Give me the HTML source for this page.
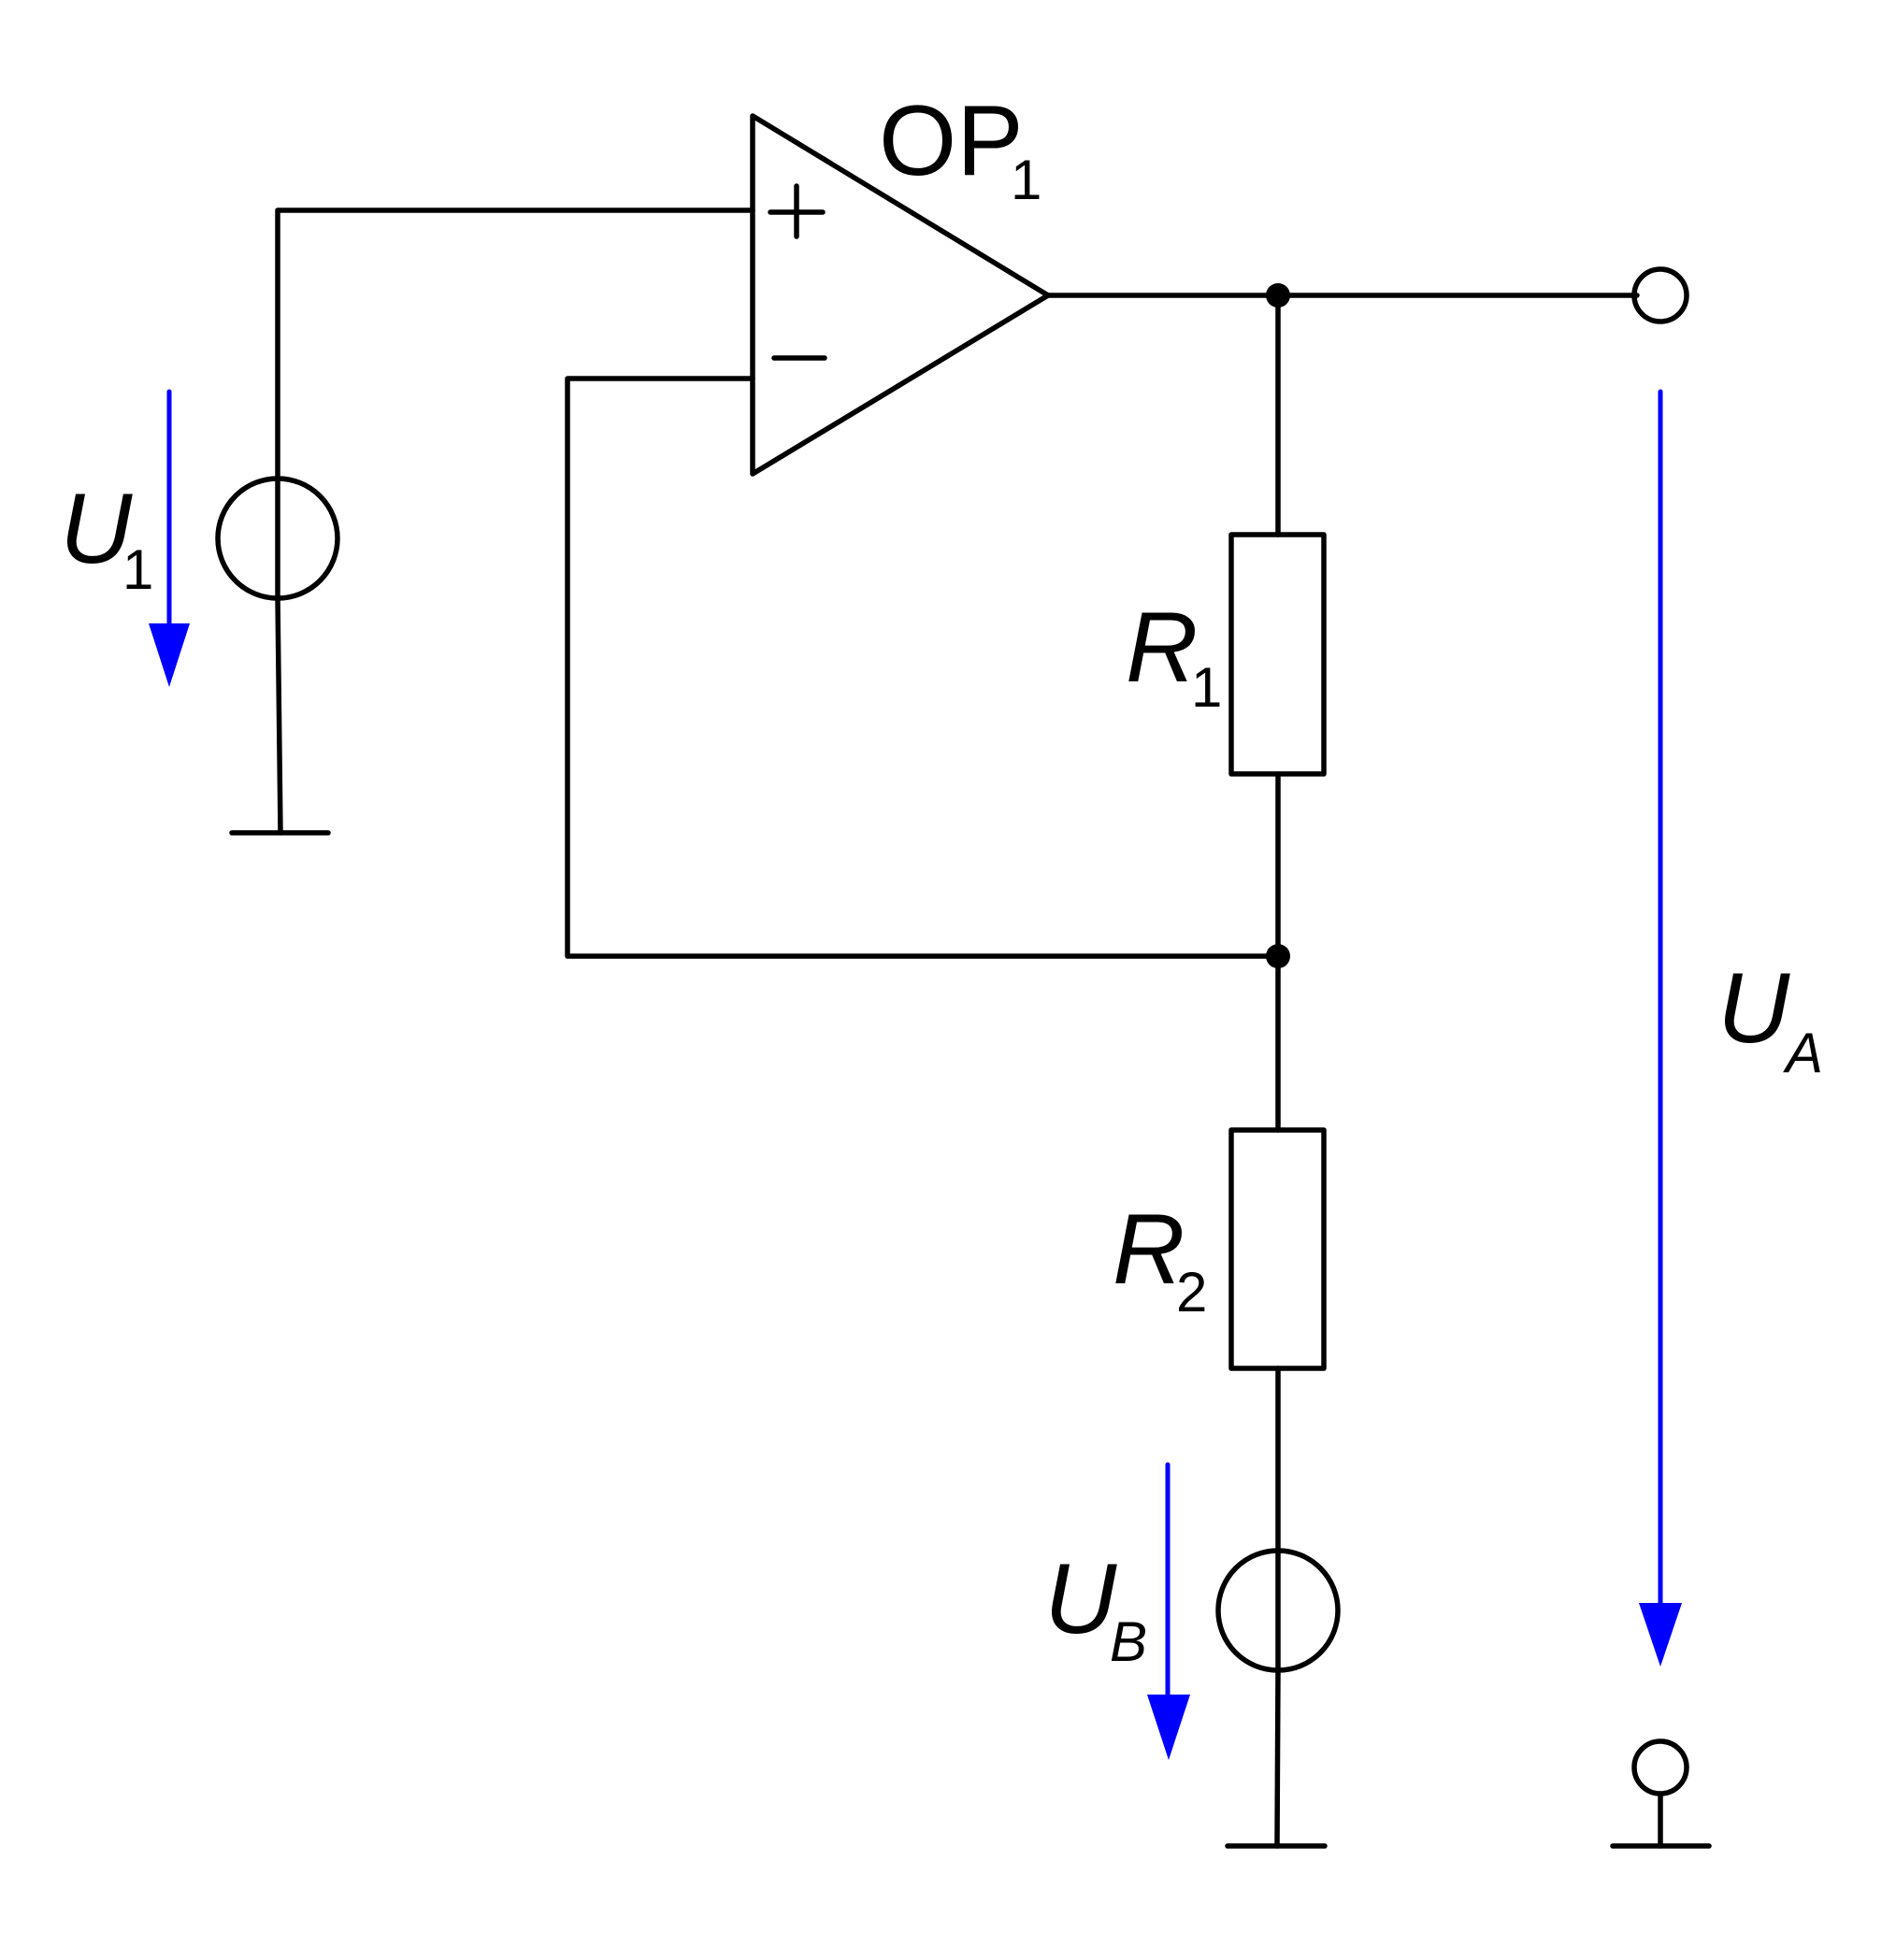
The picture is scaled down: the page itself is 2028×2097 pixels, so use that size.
<!DOCTYPE html>
<html><head><meta charset="utf-8"><style>
html,body{margin:0;padding:0;background:#fff;}
svg{display:block;}
text{font-family:"Liberation Sans",sans-serif;fill:#000;}
</style></head><body>
<svg width="2028" height="2097" viewBox="0 0 2028 2097" xmlns="http://www.w3.org/2000/svg">
<g fill="none" stroke="#000" stroke-width="5.5" stroke-linecap="round" stroke-linejoin="round">
<polygon points="805,124 805,507 1121,316"/>
<line x1="824" y1="227" x2="880" y2="227"/><line x1="852" y1="199" x2="852" y2="253"/>
<line x1="828" y1="383" x2="882" y2="383"/>
<polyline points="805,225 297,225 297,512"/>
<circle cx="297" cy="576" r="64"/>
<polyline points="297,640 300,891"/>
<line x1="248" y1="891" x2="351" y2="891"/>
<polyline points="805,405 607,405 607,1023 1367,1023"/>
<line x1="1121" y1="316" x2="1751" y2="316"/>
<circle cx="1776" cy="316" r="28"/>
<line x1="1367" y1="316" x2="1367" y2="572"/>
<rect x="1317" y="572" width="99" height="256"/>
<line x1="1367" y1="828" x2="1367" y2="1209"/>
<rect x="1317" y="1209" width="99" height="255"/>
<line x1="1367" y1="1464" x2="1367" y2="1659"/>
<circle cx="1367" cy="1723" r="64"/>
<line x1="1367" y1="1659" x2="1367" y2="1787"/>
<line x1="1367" y1="1787" x2="1366" y2="1975"/>
<line x1="1313" y1="1975" x2="1417" y2="1975"/>
<line x1="297" y1="512" x2="297" y2="640"/>
<circle cx="1776" cy="1891" r="28"/>
<line x1="1776" y1="1919" x2="1776" y2="1975"/>
<line x1="1725" y1="1975" x2="1828" y2="1975"/>
</g>
<circle cx="1367" cy="316" r="13" fill="#000"/>
<circle cx="1367" cy="1023" r="13" fill="#000"/>
<g stroke="#0000ff" stroke-width="5" stroke-linecap="round">
<line x1="181" y1="419" x2="181" y2="680"/>
<line x1="1249" y1="1567" x2="1249" y2="1830"/>
<line x1="1776" y1="419" x2="1776" y2="1730"/>
</g>
<g fill="#0000ff">
<polygon points="159,667 203,667 181,735"/>
<polygon points="1227,1813 1273,1813 1250,1883"/>
<polygon points="1753,1715 1799,1715 1776,1783"/>
</g>
<text x="940" y="187" font-size="107">OP</text><text x="1081" y="213" font-size="60">1</text>
<text x="64" y="602" font-size="107" font-style="italic">U</text><text x="131" y="630" font-size="60">1</text>
<text x="1204" y="729" font-size="107" font-style="italic">R</text><text x="1274" y="756" font-size="60">1</text>
<text x="1190" y="1373" font-size="107" font-style="italic">R</text><text x="1258" y="1403" font-size="60">2</text>
<text x="1117" y="1747" font-size="107" font-style="italic">U</text><text x="1187" y="1777" font-size="60" font-style="italic">B</text>
<text x="1837" y="1115" font-size="107" font-style="italic">U</text><text x="1910" y="1147" font-size="60" font-style="italic">A</text>
</svg>
</body></html>
